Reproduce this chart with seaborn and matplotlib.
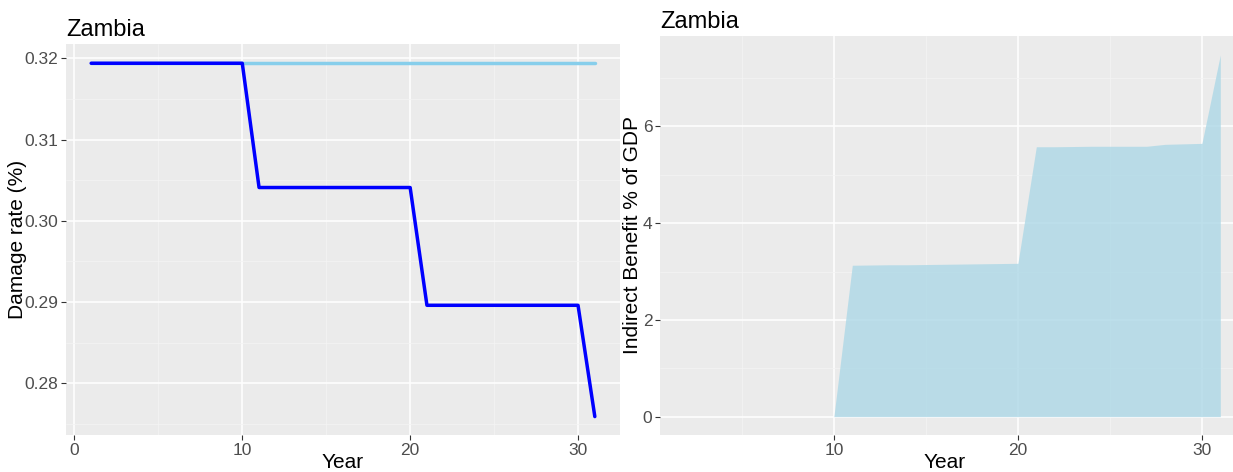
import numpy as np
import pandas as pd
import matplotlib
matplotlib.use('Agg')
import matplotlib.pyplot as plt
import seaborn as sns
from matplotlib.ticker import MultipleLocator

# Left panel data: damage rate (%)
years = list(range(1, 32))
baseline_rate = [0.3194] * 31
adapted_rate = ([0.3194] * 10 + [0.3041] * 10 + [0.2896] * 10 + [0.2759])

# Right panel data: indirect benefit % of GDP
benefit_years = list(range(2, 32))
benefit = ([0.0] * 9 +
           [3.13, 3.135, 3.14, 3.14, 3.145, 3.15, 3.155, 3.16, 3.165, 3.17] +
           [5.58, 5.58, 5.585, 5.59, 5.59, 5.59, 5.59, 5.63, 5.64, 5.65] +
           [7.48])

df_rate = pd.DataFrame({'Year': years, 'baseline': baseline_rate, 'adapted': adapted_rate})
df_ben = pd.DataFrame({'Year': benefit_years, 'benefit': benefit})

sns.set_theme(style='darkgrid', rc={
    'axes.facecolor': '#EBEBEB',
    'grid.color': 'white',
    'axes.edgecolor': '#EBEBEB',
})
plt.rcParams['font.family'] = ['Liberation Sans', 'DejaVu Sans']

W, H = 1233, 472
fig = plt.figure(figsize=(W / 100, H / 100), dpi=100)
ax1 = fig.add_axes([66 / W, (H - 435) / H, (620 - 66) / W, (435 - 44) / H])
ax2 = fig.add_axes([660 / W, (H - 435) / H, (1247 - 660) / W, (435 - 36) / H])

sns.lineplot(data=df_rate, x='Year', y='baseline', ax=ax1, color='skyblue', linewidth=2.5)
sns.lineplot(data=df_rate, x='Year', y='adapted', ax=ax1, color='blue', linewidth=2.5)
ax1.set_xlim(-0.5, 32.5)
ax1.set_ylim(0.27363, 0.32177)
ax1.xaxis.set_major_locator(MultipleLocator(10))
ax1.xaxis.set_minor_locator(MultipleLocator(5))
ax1.yaxis.set_major_locator(MultipleLocator(0.01))
ax1.yaxis.set_minor_locator(MultipleLocator(0.005))
ax1.yaxis.set_major_formatter(matplotlib.ticker.FormatStrFormatter('%.2f'))
ax1.set_ylabel('Damage rate (%)', fontsize=15, color='black')

ax2.fill_between(df_ben['Year'], 0, df_ben['benefit'], color='lightblue', alpha=0.8, linewidth=0)
ax2.set_xlim(0.55, 32.45)
ax2.set_ylim(-0.38, 7.87)
ax2.xaxis.set_major_locator(MultipleLocator(10))
ax2.xaxis.set_minor_locator(MultipleLocator(5))
ax2.yaxis.set_major_locator(MultipleLocator(2))
ax2.yaxis.set_minor_locator(MultipleLocator(1))
ax2.set_ylabel('Indirect Benefit % of GDP', fontsize=15, color='black')

for ax in (ax1, ax2):
    ax.grid(which='major', color='white', linewidth=1.1)
    ax.grid(which='minor', color='#F4F4F4', linewidth=0.5)
    ax.set_axisbelow(True)
    for s in ax.spines.values():
        s.set_visible(False)
    ax.tick_params(which='major', length=3.5, width=0.8, color='#333333',
                   labelsize=12.5, labelcolor='#4D4D4D', pad=2,
                   bottom=True, left=True)
    ax.tick_params(which='minor', length=0)
    ax.set_xlabel('Year', fontsize=15, color='black')
    ax.set_title('Zambia', loc='left', fontsize=17, color='black', pad=6)

# label placement (right panel is clipped by the figure edge, as in the source)
ax1.xaxis.set_label_coords(0.5, -0.045)
ax1.yaxis.set_label_coords(-0.07, 0.5)
ax2.xaxis.set_label_coords((945 - 660) / (1247 - 660), -0.045)
ax2.yaxis.set_label_coords(-0.031, 0.5)

fig.savefig('out.png', dpi=100)
